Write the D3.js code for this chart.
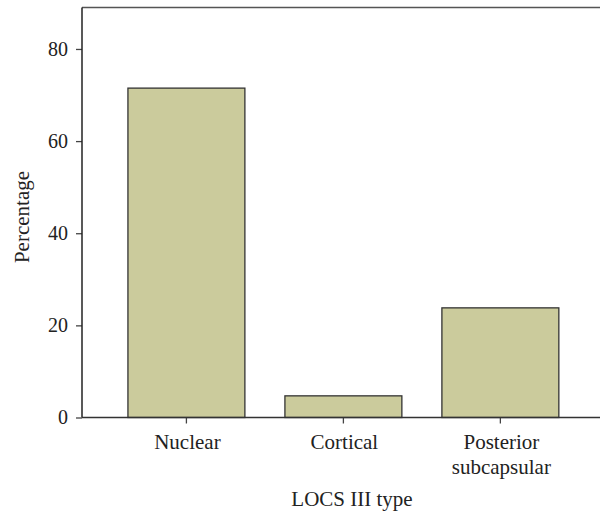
<!DOCTYPE html>
<html>
<head>
<meta charset="utf-8">
<script src="https://cdn.jsdelivr.net/npm/d3@7"></script>
<style>
  body { margin: 0; background: #fff; }
  text { font-family: "Liberation Serif", "DejaVu Serif", serif; fill: #222; }
</style>
</head>
<body>
<div id="chart"></div>
<script>
var categories = ["Nuclear", "Cortical", "Posterior\nsubcapsular"];
var percentages = [71.5, 4.7, 23.8];
var yTicks = [0, 20, 40, 60, 80];

var width = 601, height = 513;
var plotLeft = 82, plotRight = 600, plotTop = 7.5, plotBottom = 417.5;

var svg = d3.select("#chart")
    .append("svg")
    .attr("width", width)
    .attr("height", height);

var xScale = d3.scaleBand()
    .domain(categories)
    .range([plotLeft, 587])
    .paddingInner(0.255)
    .paddingOuter(0.236)
    .align(0.62);

var yScale = d3.scaleLinear()
    .domain([0, 89])
    .range([plotBottom, plotTop]);

// bars
svg.selectAll("rect.bar")
    .data(categories)
    .enter().append("rect")
    .attr("class", "bar")
    .attr("x", function(d) { return xScale(d); })
    .attr("y", function(d, i) { return yScale(percentages[i]); })
    .attr("width", xScale.bandwidth())
    .attr("height", function(d, i) { return plotBottom - yScale(percentages[i]); })
    .attr("fill", "#cbcb9c")
    .attr("stroke", "#333")
    .attr("stroke-width", 1.3);

// top border
svg.append("line")
    .attr("x1", plotLeft).attr("x2", plotRight)
    .attr("y1", plotTop).attr("y2", plotTop)
    .attr("stroke", "#555").attr("stroke-width", 1.5);

// y axis
var yAxis = svg.append("g")
    .attr("transform", "translate(" + plotLeft + ",0)")
    .call(d3.axisLeft(yScale).tickValues(yTicks).tickSize(6).tickPadding(8));
yAxis.select(".domain").remove();
yAxis.selectAll(".tick line").attr("stroke", "#444").attr("stroke-width", 1.3);
yAxis.selectAll(".tick text").style("font-size", "20px").style("font-family", "Liberation Serif, serif").attr("fill", "#222");
svg.append("line")
    .attr("x1", plotLeft).attr("x2", plotLeft)
    .attr("y1", plotTop).attr("y2", plotBottom)
    .attr("stroke", "#222").attr("stroke-width", 1.5);

// x axis
var xAxis = svg.append("g")
    .attr("transform", "translate(0," + plotBottom + ")")
    .call(d3.axisBottom(xScale).tickSize(6).tickFormat(""));
xAxis.select(".domain").remove();
xAxis.selectAll(".tick line").attr("stroke", "#444").attr("stroke-width", 1.3);
svg.append("line")
    .attr("x1", plotLeft).attr("x2", plotRight)
    .attr("y1", plotBottom).attr("y2", plotBottom)
    .attr("stroke", "#333").attr("stroke-width", 1.5);

// category labels (multi-line)
svg.selectAll("text.cat")
    .data(categories)
    .enter().append("text")
    .attr("class", "cat")
    .attr("text-anchor", "middle")
    .style("font-size", "21px")
    .each(function(d) {
        var t = d3.select(this);
        d.split("\n").forEach(function(line, i) {
            t.append("tspan")
                .attr("x", xScale(d) + xScale.bandwidth() / 2 + 1)
                .attr("y", 449 + i * 25)
                .text(line);
        });
    });

// axis titles
svg.append("text")
    .attr("x", 352)
    .attr("y", 506)
    .attr("text-anchor", "middle")
    .style("font-size", "21px")
    .text("LOCS III type");

svg.append("text")
    .attr("transform", "translate(29,217) rotate(-90)")
    .attr("text-anchor", "middle")
    .style("font-size", "21px")
    .text("Percentage");
</script>
</body>
</html>
